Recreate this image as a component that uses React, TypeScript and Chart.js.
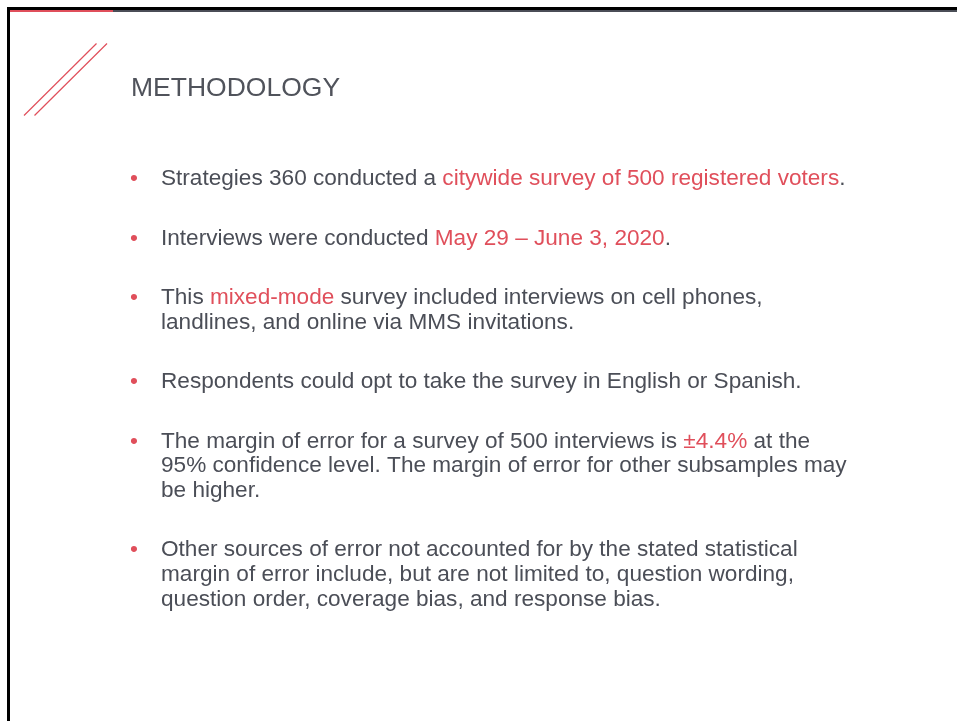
import React, { useEffect, useRef } from "react";
import { Chart, registerables } from "chart.js";

Chart.register(...registerables);

// ---- content (text data) ----
const titleText = "METHODOLOGY";

type Seg = [string, boolean]; // [text, highlighted]
type Line = Seg[];

const bullet1: Line[] = [
  [["Strategies 360 conducted a ", false], ["citywide survey of 500 registered voters", true], [".", false]],
];
const bullet2: Line[] = [
  [["Interviews were conducted ", false], ["May 29 \u2013 June 3, 2020", true], [".", false]],
];
const bullet3: Line[] = [
  [["This ", false], ["mixed-mode", true], [" survey included interviews on cell phones,", false]],
  [["landlines, and online via MMS invitations.", false]],
];
const bullet4: Line[] = [
  [["Respondents could opt to take the survey in English or Spanish.", false]],
];
const bullet5: Line[] = [
  [["The margin of error for a survey of 500 interviews is ", false], ["\u00b14.4%", true], [" at the", false]],
  [["95% confidence level. The margin of error for other subsamples may", false]],
  [["be higher.", false]],
];
const bullet6: Line[] = [
  [["Other sources of error not accounted for by the stated statistical", false]],
  [["margin of error include, but are not limited to, question wording,", false]],
  [["question order, coverage bias, and response bias.", false]],
];
const bullets: Line[][] = [bullet1, bullet2, bullet3, bullet4, bullet5, bullet6];

// ---- styles ----
const FONT = '"Liberation Sans", Arial, sans-serif';
const GRAY = "#4b4e57";
const RED = "#e04f5b";

const slidePlugin = {
  id: "slide",
  afterDraw(chart: Chart) {
    const ctx = chart.ctx;
    const W = chart.width;
    const H = chart.height;
    ctx.save();

    // frame
    ctx.fillStyle = "#000000";
    ctx.fillRect(7, 7, W - 7, 3);
    ctx.fillRect(7, 7, 3, H - 7);
    ctx.fillStyle = RED;
    ctx.fillRect(10, 10, 103, 2);
    ctx.fillStyle = GRAY;
    ctx.fillRect(113, 10, W - 113, 2);

    // diagonal decoration
    ctx.strokeStyle = RED;
    ctx.lineWidth = 1.2;
    ctx.setLineDash([]);
    ctx.beginPath();
    ctx.moveTo(24, 115.5);
    ctx.lineTo(96.5, 43.5);
    ctx.stroke();
    ctx.beginPath();
    ctx.moveTo(34.5, 115.5);
    ctx.lineTo(107, 43.5);
    ctx.stroke();

    // title
    ctx.textBaseline = "alphabetic";
    ctx.textAlign = "left";
    ctx.fillStyle = "#50535b";
    ctx.font = `26.5px ${FONT}`;
    ctx.fillText(titleText, 131, 96);

    // bullets
    const fontSize = 22.6;
    ctx.font = `${fontSize}px ${FONT}`;
    const lineH = 24.6;
    const paraGap = 59.5;
    let y = 185;
    bullets.forEach((para, pi) => {
      if (pi > 0) y += paraGap;
      ctx.fillStyle = RED;
      ctx.fillText("\u2022", 130, y);
      para.forEach((line, li) => {
        if (li > 0) y += lineH;
        let x = 161;
        line.forEach(([t, hl]) => {
          ctx.fillStyle = hl ? RED : GRAY;
          ctx.fillText(t, x, y);
          x += ctx.measureText(t).width;
        });
      });
    });

    ctx.restore();
  },
};

export default function App() {
  const ref = useRef<HTMLCanvasElement | null>(null);
  useEffect(() => {
    if (!ref.current) return;
    const chart = new Chart(ref.current, {
      type: "scatter",
      data: { datasets: [] },
      options: {
        animation: false,
        responsive: false,
        events: [],
        layout: { padding: 0 },
        scales: { x: { display: false }, y: { display: false } },
        plugins: { legend: { display: false }, tooltip: { enabled: false }, title: { display: false } },
      },
      plugins: [slidePlugin],
    });
    return () => chart.destroy();
  }, []);
  return (
    <div style={{ position: "fixed", left: 0, top: 0, width: 957, height: 721, background: "#ffffff" }}>
      <canvas ref={ref} width={957} height={721} style={{ display: "block" }} />
    </div>
  );
}
